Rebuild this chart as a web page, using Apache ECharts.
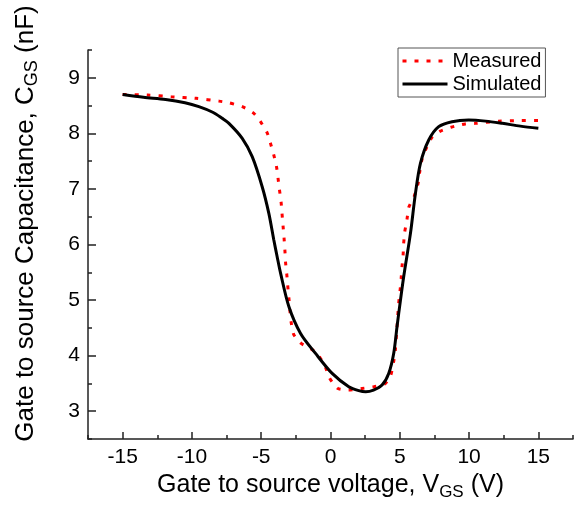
<!DOCTYPE html>
<html>
<head>
<meta charset="utf-8">
<script src="https://cdn.jsdelivr.net/npm/echarts@6/dist/echarts.min.js"></script>
<style>html,body{margin:0;padding:0;background:#fff}#c{width:577px;height:506px}</style>
</head>
<body>
<div id="c"></div>
<script>
// Measured curve (dotted red)
const measuredV = [-15, -13.2, -11.5, -9.7, -8.05, -7.33, -6.37, -5.53, -5.05, -4.57, -4.33, -4.09, -3.89, -3.78, -3.68, -3.56, -3.49, -3.42, -3.35, -3.29, -3.24, -3.15, -3.08, -3.0, -2.93, -2.84, -2.65, -2.12, -1.33, -0.77, -0.36, -0.05, 0.53, 1.32, 2.28, 3.12, 3.96, 4.35, 4.55, 4.68, 4.8, 4.92, 5.02, 5.1, 5.16, 5.24, 5.28, 5.36, 5.52, 5.65, 6.03, 6.32, 6.44, 6.6, 6.96, 7.33, 7.93, 8.7, 9.73, 10.45, 12.13, 13.58, 15];
const measuredC = [8.70, 8.69, 8.66, 8.63, 8.58, 8.55, 8.48, 8.36, 8.21, 8.01, 7.82, 7.61, 7.39, 7.18, 6.98, 6.75, 6.53, 6.32, 6.11, 5.89, 5.67, 5.45, 5.24, 5.03, 4.81, 4.60, 4.38, 4.22, 4.11, 3.97, 3.79, 3.59, 3.41, 3.38, 3.41, 3.44, 3.50, 3.65, 3.88, 4.10, 4.52, 4.94, 5.17, 5.39, 5.60, 5.81, 6.02, 6.23, 6.45, 6.67, 6.86, 7.10, 7.31, 7.53, 7.76, 7.93, 8.04, 8.11, 8.17, 8.18, 8.22, 8.23, 8.23];
// Simulated curve (solid black)
const simulatedV = [-15, -13.5, -11.9, -10.5, -9.5, -8.5, -7.82, -7.33, -6.37, -5.65, -4.93, -4.45, -4.09, -3.85, -3.6, -3.0, -2.16, -1.08, 0.12, 1.32, 2.04, 2.55, 3.1, 3.72, 4.2, 4.56, 4.8, 5.05, 5.3, 5.77, 6.13, 6.49, 7.09, 7.81, 8.77, 9.97, 11.2, 12.4, 13.7, 15];
const simulatedC = [8.70, 8.65, 8.61, 8.55, 8.48, 8.38, 8.27, 8.18, 7.91, 7.58, 7.04, 6.56, 6.08, 5.78, 5.48, 4.88, 4.40, 4.04, 3.68, 3.44, 3.37, 3.35, 3.38, 3.47, 3.68, 4.04, 4.52, 5.0, 5.45, 6.2, 6.92, 7.46, 7.88, 8.12, 8.21, 8.24, 8.22, 8.18, 8.13, 8.09];
// Ticks
const xMajorTicks = [-15, -10, -5, 0, 5, 10, 15];
const xMinorTicks = [-17.5, -12.5, -7.5, -2.5, 2.5, 7.5, 12.5, 17.5];
const yMajorTicks = [3, 4, 5, 6, 7, 8, 9];
const yMinorTicks = [2.5, 3.5, 4.5, 5.5, 6.5, 7.5, 8.5, 9.5];
const seriesNames = ['Measured', 'Simulated'];

const FONT = '"Liberation Sans", Arial, sans-serif';
const AX = '#222';
const chart = echarts.init(document.getElementById('c'), null, {renderer: 'canvas'});
const pair = (xs, ys) => xs.map((v, i) => [v, ys[i]]);

const baseX = {
  type: 'value', min: -17.5, max: 17.5, position: 'bottom',
  axisLine: {show: true, onZero: false, lineStyle: {color: AX, width: 1.5}},
  splitLine: {show: false}
};
const baseY = {
  type: 'value', min: 2.5, max: 9.5, position: 'left',
  axisLine: {show: true, onZero: false, lineStyle: {color: AX, width: 1.5}},
  splitLine: {show: false}
};

chart.setOption({
  animation: false,
  backgroundColor: '#fff',
  textStyle: {fontFamily: FONT},
  grid: {left: 88, right: 4, top: 50, bottom: 67, containLabel: false, outerBoundsMode: 'none'},
  legend: {
    orient: 'vertical', left: 398, top: 48,
    padding: [3, 4, 3, 3], itemGap: 3,
    itemWidth: 45, itemHeight: 14,
    borderColor: '#555', borderWidth: 1,
    itemStyle: {opacity: 0},
    lineStyle: {width: 3},
    textStyle: {fontSize: 20, color: '#000', fontFamily: FONT},
    data: seriesNames
  },
  xAxis: [
    Object.assign({}, baseX, {
      name: '{m|Gate to source voltage, V}{s|GS}{m| (V)}',
      nameLocation: 'middle', nameGap: 30,
      nameTextStyle: {rich: {
        m: {fontSize: 25, lineHeight: 30, color: '#000', fontFamily: FONT, verticalAlign: 'middle'},
        s: {fontSize: 17, lineHeight: 14, color: '#000', fontFamily: FONT, verticalAlign: 'bottom'}
      }},
      axisTick: {show: true, inside: true, length: 7, customValues: xMajorTicks, lineStyle: {color: AX, width: 1.5}},
      axisLabel: {show: true, customValues: xMajorTicks, margin: 8, fontSize: 21, color: '#000', fontFamily: FONT}
    }),
    Object.assign({}, baseX, {
      axisLine: {show: false, onZero: false},
      axisTick: {show: true, inside: true, length: 4, customValues: xMinorTicks, lineStyle: {color: AX, width: 1.5}},
      axisLabel: {show: false}
    })
  ],
  yAxis: [
    Object.assign({}, baseY, {
      name: '{m|Gate to source Capacitance, C}{s|GS}{m| (nF)}',
      nameLocation: 'middle', nameGap: 47,
      nameTextStyle: {padding: [0, 0, 0, 42], rich: {
        m: {fontSize: 26, lineHeight: 30, color: '#000', fontFamily: FONT, verticalAlign: 'middle'},
        s: {fontSize: 18, lineHeight: 14, color: '#000', fontFamily: FONT, verticalAlign: 'bottom'}
      }},
      axisTick: {show: true, inside: true, length: 8, customValues: yMajorTicks, lineStyle: {color: AX, width: 1.5}},
      axisLabel: {show: true, customValues: yMajorTicks, margin: 8, fontSize: 21, color: '#000', fontFamily: FONT}
    }),
    Object.assign({}, baseY, {
      axisLine: {show: false, onZero: false},
      axisTick: {show: true, inside: true, length: 4, customValues: yMinorTicks, lineStyle: {color: AX, width: 1.5}},
      axisLabel: {show: false}
    })
  ],
  series: [
    {
      name: seriesNames[0], type: 'line', xAxisIndex: 0, yAxisIndex: 0,
      data: pair(measuredV, measuredC),
      symbol: 'none', showSymbol: false, smooth: 0.2, z: 2,
      lineStyle: {color: '#ff0000', width: 3, type: [4, 8]},
      itemStyle: {color: '#ff0000'}
    },
    {
      name: seriesNames[1], type: 'line', xAxisIndex: 0, yAxisIndex: 0,
      data: pair(simulatedV, simulatedC),
      symbol: 'none', showSymbol: false, smooth: 0.3, z: 3,
      lineStyle: {color: '#000', width: 3, type: 'solid'},
      itemStyle: {color: '#000'}
    }
  ]
});
</script>
</body>
</html>
